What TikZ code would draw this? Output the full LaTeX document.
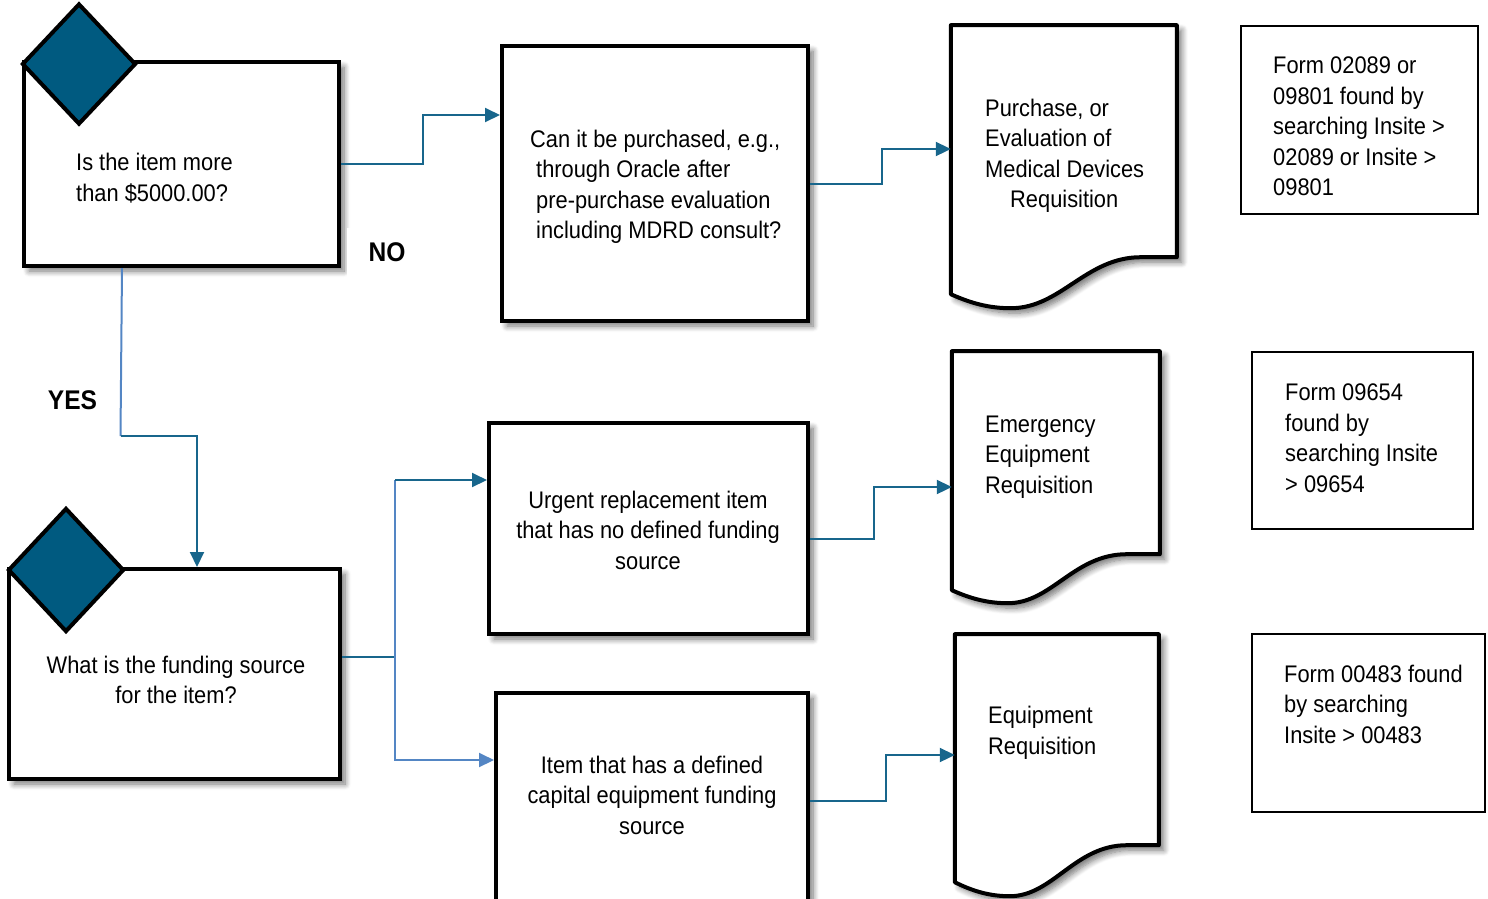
\documentclass[tikz,border=0pt]{standalone}
\usepackage{fontspec}
\setmainfont{Liberation Sans}[FakeStretch=0.91]
\usetikzlibrary{arrows.meta,shapes.geometric,shadows.blur}
\definecolor{dteal}{RGB}{0,90,128}
\definecolor{conncol}{RGB}{24,102,140}
\definecolor{lblue}{RGB}{84,134,196}
\begin{document}
\begin{tikzpicture}[x=1pt,y=-1pt,
  shad/.style={blur shadow={shadow blur steps=8, shadow xshift=5pt, shadow yshift=-5pt, shadow blur radius=6pt, shadow opacity=55}},
  box/.style={draw=black, line width=4pt, fill=white, rectangle, inner sep=0pt, shad},
  formbox/.style={draw=black, line width=1.8pt, fill=white, rectangle, inner sep=0pt},
  docanchor/.style={rectangle, inner sep=0pt, draw=none},
  docshape/.style={draw=black, line width=4pt, fill=white, line join=round, shad},
  dia/.style={diamond, draw=black, line width=4pt, fill=dteal, inner sep=0pt},
  txt/.style={inner sep=0pt, font=\fontsize{24}{30.5}\selectfont, align=left},
  ctxt/.style={inner sep=0pt, font=\fontsize{24}{30.5}\selectfont, align=center},
  lbl/.style={inner sep=0pt, font=\fontsize{27}{30}\selectfont\bfseries},
  conn/.style={draw=conncol, line width=2pt},
  connl/.style={draw=lblue, line width=2pt},
  tip/.style={-{Triangle[length=15pt,width=14pt]}}
]
\useasboundingbox (0,0) rectangle (1488,898);
\clip (0,0) rectangle (1488,898);

% process boxes
\node[box, minimum width=315pt, minimum height=204pt] (b1) at (181.5,164) {};
\node[box, minimum width=306pt, minimum height=275pt] (b2) at (655,183.5) {};
\node[box, minimum width=331pt, minimum height=210pt] (b4) at (174.5,674) {};
\node[box, minimum width=319pt, minimum height=211pt] (b5) at (648.5,528.5) {};
\node[box, minimum width=312pt, minimum height=212pt] (b6) at (652,799) {};

% document shapes
\node[docanchor, minimum width=226pt, minimum height=269pt] (d1) at (1064,159.5) {};
\node[docanchor, minimum width=208pt, minimum height=239pt] (d2) at (1056,470.5) {};
\node[docanchor, minimum width=204pt, minimum height=248pt] (d3) at (1057,758) {};
\begin{scope}[shift={(d1.south west)}]
\path[docshape] (0,0) .. controls (20,9) and (38,14) .. (60,14) .. controls (110,14) and (135,-37) .. (190,-37) -- (226,-37) -- (226,-269) -- (0,-269) -- cycle;
\end{scope}
\begin{scope}[shift={(d2.south west)}]
\path[docshape] (0,0) .. controls (18,8) and (35,13) .. (56,13) .. controls (100,13) and (122,-36) .. (175,-36) -- (208,-36) -- (208,-239) -- (0,-239) -- cycle;
\end{scope}
\begin{scope}[shift={(d3.south west)}]
\path[docshape] (0,0) .. controls (18,9) and (35,14) .. (55,14) .. controls (98,14) and (120,-37) .. (172,-37) -- (204,-37) -- (204,-248) -- (0,-248) -- cycle;
\end{scope}

% form boxes
\node[formbox, minimum width=237pt, minimum height=188pt] (f1) at (1359.5,120) {};
\node[formbox, minimum width=221pt, minimum height=177pt] (f2) at (1362.5,440.5) {};
\node[formbox, minimum width=233pt, minimum height=178pt] (f3) at (1368.5,723) {};

% diamonds
\node[dia, minimum width=114pt, minimum height=121pt] (q1) at (79,64) {};
\node[dia, minimum width=116pt, minimum height=124pt] (q2) at (66,570) {};

% labels
\node[lbl, fill=white, minimum width=80pt, minimum height=49pt] (no) at (387,252.5) {NO};
\node[lbl] (yes) at (72.5,400.5) {YES};

% connectors
\draw[conn, tip] (b1.east) -- ++(82,0) |- ([yshift=68.5pt]b2.west);
\draw[conn, tip] (b2.east) -- ++(72,0) |- ([yshift=10.5pt]d1.west);
\draw[connl] ([xshift=-59.5pt]b1.south) -- ++(-1.5,168) coordinate (ycorner);
\draw[conn, tip] (ycorner) -| ([xshift=22.5pt]b4.north);
\draw[conn] ([yshift=17pt]b4.east) -- ++(53,0) coordinate (split);
\draw[connl] (split) -- ++(0,-177) coordinate (upper);
\draw[conn, tip] (upper) -- ([yshift=48.5pt]b5.west);
\draw[connl, tip] (split) |- ([yshift=39pt]b6.west);
\draw[conn, tip] ([yshift=-10.5pt]b5.east) -- ++(64,0) |- ([yshift=-16.5pt]d2.west);
\draw[conn, tip] ([yshift=-2pt]b6.east) -- ++(76,0) |- ([yshift=3pt]d3.west);

% texts
\node[txt, anchor=west] (t1) at (76,178) {Is the item more\\than \$5000.00?};
\node[txt, anchor=west] (t2) at (530,187) {Can it be purchased, e.g.,\\\hspace*{6pt}through Oracle after\\\hspace*{6pt}pre-purchase evaluation\\\hspace*{6pt}including MDRD consult?};
\node[txt, anchor=west] (t3) at (985,156) {Purchase, or\\Evaluation of\\Medical Devices\\\hspace*{25pt}Requisition};
\node[txt, anchor=west] (t4) at (1273,126.5) {Form 02089 or\\09801 found by\\searching Insite >\\02089 or Insite >\\09801};
\node[ctxt] (t5) at (176,680) {What is the funding source\\for the item?};
\node[ctxt] (t6) at (648,530) {Urgent replacement item\\that has no defined funding\\source};
\node[ctxt] (t7) at (652,795) {Item that has a defined\\capital equipment funding\\source};
\node[txt, anchor=west] (t8) at (985,457) {Emergency\\Equipment\\Requisition};
\node[txt, anchor=west] (t9) at (988,733) {Equipment\\Requisition};
\node[txt, anchor=west] (t10) at (1285,438) {Form 09654\\found by\\searching Insite\\> 09654};
\node[txt, anchor=west] (t11) at (1284,704) {Form 00483 found\\by searching\\Insite > 00483};
\end{tikzpicture}
\end{document}
